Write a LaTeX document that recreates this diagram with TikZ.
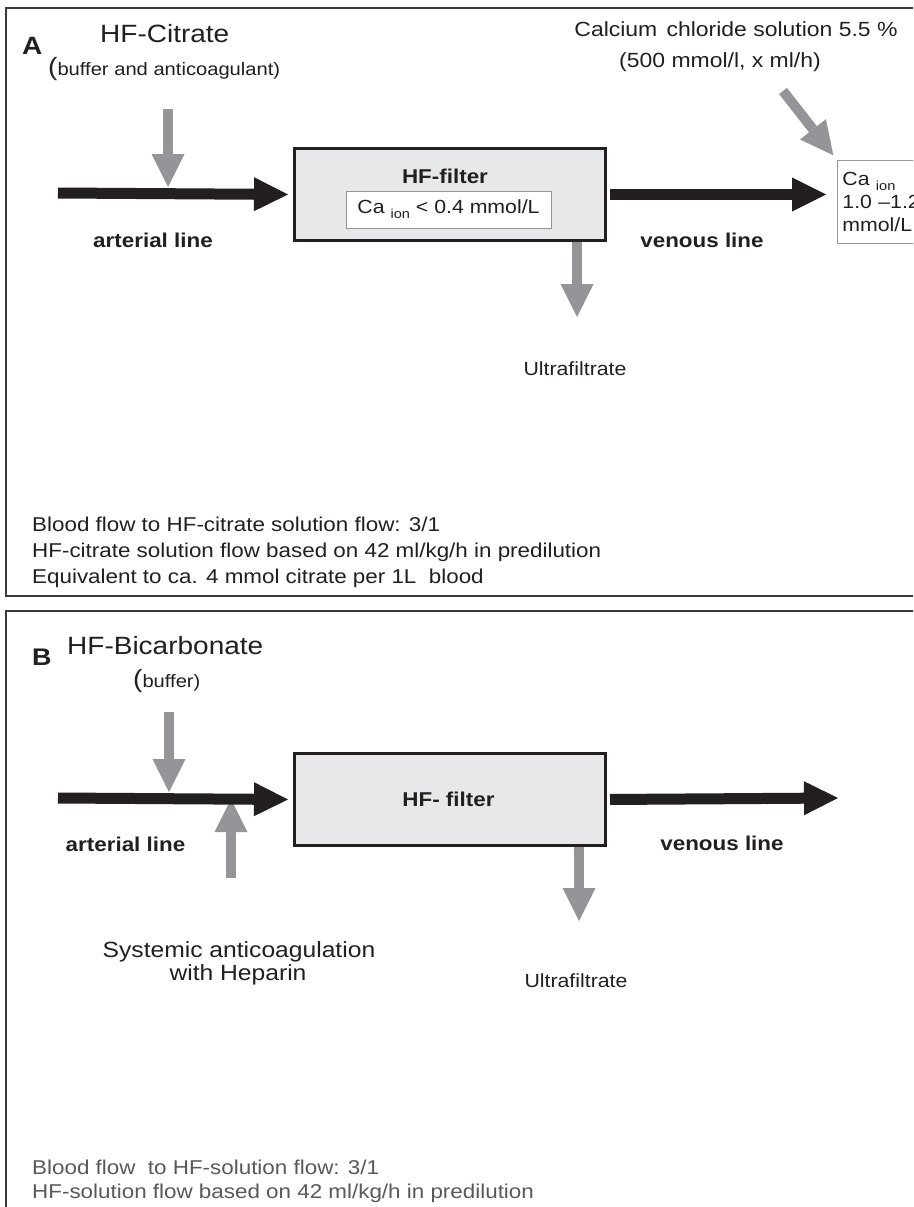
\documentclass[tikz,border=0pt]{standalone}
\usepackage{fontspec}
\setmainfont{Liberation Sans}[FakeStretch=1.12]
\usetikzlibrary{arrows.meta,calc}
\definecolor{LineClr}{RGB}{35,31,32}
\definecolor{FluidClr}{RGB}{147,149,152}
\definecolor{FilterClr}{RGB}{231,232,234}
\definecolor{FrameClr}{RGB}{58,58,58}
\definecolor{BoxClr}{RGB}{150,150,150}
\definecolor{NoteClr}{RGB}{88,89,91}
\newcommand{\pxfont}[2]{\fontsize{#1}{#2}\selectfont}
\newcommand{\ionsub}{\raisebox{-5pt}{\pxfont{13}{13}ion}}

\begin{document}
\begin{tikzpicture}[x=1pt,y=-1pt,
  every node/.style={inner sep=0pt,text=LineClr},
  panel/.style={draw=FrameClr,line width=2pt},
  blood/.style={draw=LineClr,line width=11pt,-{Triangle[length=34pt,width=34pt,line width=0pt]}},
  fluid/.style={draw=FluidClr,line width=10pt,-{Triangle[length=33pt,width=33pt,line width=0pt]}},
  filter/.style={draw=LineClr,fill=FilterClr,line width=3pt,minimum width=311pt,minimum height=92pt,anchor=north west},
  ionbox/.style={draw=BoxClr,fill=white,line width=0.9pt},
  flowlabel/.style={font=\bfseries\pxfont{20}{24},anchor=base},
  note/.style={font=\pxfont{20}{24},anchor=base west}]

\fill[white] (0,0) rectangle (913,1207);
\useasboundingbox (0,0) rectangle (913,1207);
\clip (0,0) rectangle (913,1207);

% panel A
\draw[panel] (6,8) rectangle (960,596);
\node[font=\bfseries\pxfont{25}{30},anchor=base west] (markA) at (22,55) {A};
\node[font=\pxfont{25}{30},anchor=base west] (titleA) at (100,43) {HF-Citrate};
\node[font=\pxfont{25}{30},anchor=base west] (subA) at (48,76) {(\pxfont{18}{22}buffer and anticoagulant)};

\node[filter] (filterA) at (293,147) {};
\node[font=\bfseries\pxfont{20}{24},anchor=base] (filterTxtA) at (445,183) {HF-filter};
\node[ionbox,minimum width=205pt,minimum height=37pt,font=\pxfont{19}{23}] (ionA) at (448.5,209.5) {Ca \ionsub{} < 0.4 mmol/L};

\node[font=\pxfont{20.5}{25},anchor=base] (calcA) at (736,37) {Calcium\hspace{0.45em}chloride solution 5.5 \%};
\node[font=\pxfont{20.5}{25},anchor=base] (doseA) at (720,67) {(500 mmol/l, x ml/h)};
\node[ionbox,anchor=north west,align=left,text width=100pt,minimum height=83pt,inner sep=5pt,font=\pxfont{19}{23}] (ionVen) at (837,160) {Ca \ionsub\\1.0 \textendash1.2\\mmol/L};

\coordinate (artA) at (58,193);
\coordinate (citTop) at (168,109);
\coordinate (caStart) at (783,91);
\coordinate (ufTipA) at (577,317);

\draw[blood,shorten >=5pt] (artA) -- (filterA.west);
\draw[blood,shorten <=3pt,shorten >=11pt] (filterA.east) -- (filterA.east -| ionVen.west);
\draw[fluid,shorten >=6pt] (citTop) -- (citTop |- artA);
\draw[fluid,shorten >=6pt] (caStart) -- (ionVen.north west);
\draw[fluid] (filterA.south -| ufTipA) -- (ufTipA);

\node[flowlabel] (artLblA) at (153,247) {arterial line};
\node[flowlabel] (venLblA) at (702,247) {venous line};
\node[font=\pxfont{19}{23},anchor=base] (ufA) at (575,375) {Ultrafiltrate};

\node[note] (noteA1) at (32,531) {Blood flow to HF-citrate solution flow: 3/1};
\node[note] (noteA2) at (32,557) {HF-citrate solution flow based on 42 ml/kg/h in predilution};
\node[note] (noteA3) at (32,583) {Equivalent to ca. 4 mmol citrate per 1L\ \ blood};

% panel B
\draw[panel] (6,611) rectangle (960,1260);
\node[font=\bfseries\pxfont{24}{29},anchor=base west] (markB) at (32,665) {B};
\node[font=\pxfont{25}{30},anchor=base west] (titleB) at (67,654) {HF-Bicarbonate};
\node[font=\pxfont{25}{30},anchor=base west] (subB) at (133,687) {(\pxfont{18}{22}buffer)};

\node[filter] (filterB) at (293,752) {};
\node[font=\bfseries\pxfont{20}{24},anchor=base] (filterTxtB) at (448.5,806) {HF- filter};

\coordinate (artB) at (58,798);
\coordinate (bufTop) at (169,712);
\coordinate (hepBot) at (231,878);
\coordinate (venEndB) at (838,798);
\coordinate (ufTipB) at (579,921);

\draw[fluid,shorten >=1pt] (hepBot) -- (hepBot |- artB);
\draw[blood,shorten >=5pt] (artB) -- (filterB.west);
\draw[blood,shorten <=3pt] (filterB.east) -- (venEndB);
\draw[fluid,shorten >=6pt] (bufTop) -- (bufTop |- artB);
\draw[fluid] (filterB.south -| ufTipB) -- (ufTipB);

\node[flowlabel] (artLblB) at (125.5,851) {arterial line};
\node[flowlabel] (venLblB) at (722,850) {venous line};
\node[font=\pxfont{22}{24},anchor=base] (hepB1) at (239,957) {Systemic anticoagulation};
\node[font=\pxfont{22}{24},anchor=base] (hepB2) at (238,980) {with Heparin};
\node[font=\pxfont{19}{23},anchor=base] (ufB) at (576,987) {Ultrafiltrate};

\node[note,text=NoteClr] (noteB1) at (32,1174) {Blood flow\ \ to HF-solution flow: 3/1};
\node[note,text=NoteClr] (noteB2) at (32,1198) {HF-solution flow based on 42 ml/kg/h in predilution};

\end{tikzpicture}
\end{document}
